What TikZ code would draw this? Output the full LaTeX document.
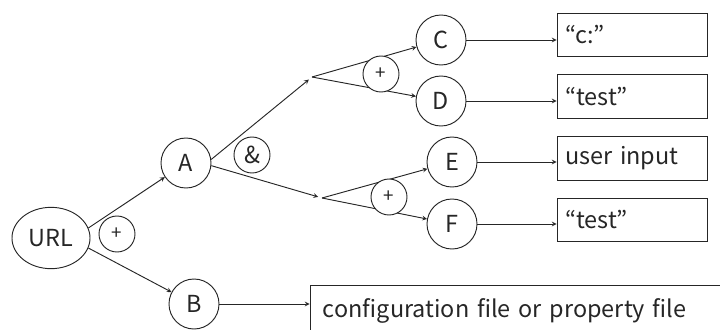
\documentclass[tikz,border=0pt]{standalone}
\usepackage{fontspec}
\setmainfont{Noto Sans CJK JP}
\usetikzlibrary{shapes.geometric}

\begin{document}
\begin{tikzpicture}[
    x=0.03cm, y=-0.03cm, line width=0.8pt, color=black!85,
    every node/.style={font=\fontsize{20}{24}\selectfont},
    arrowstyle/.style={draw, -stealth},
    source/.style={ellipse, draw, minimum width=2.34cm, minimum height=1.84cm,
        inner sep=0pt},
    state/.style={circle, draw, minimum size=1.5cm, inner sep=0pt},
    gate/.style={circle, draw, fill=white, minimum size=1.08cm, inner sep=0pt,
        font=\fontsize{16}{18}\selectfont},
    valuebox/.style={rectangle, draw, minimum width=4.5cm, minimum height=1.3cm,
        inner xsep=0.24cm, text width=4.02cm, align=left}
]
\useasboundingbox (0,0) rectangle (720,329);
\clip (0,0) rectangle (720,329);

% nodes
\node (url) [source] at (51,238) {URL};
\node (a) [state] at (186,163) {A};
\node (b) [state] at (194,304) {B};
\node (c) [state] at (441,40) {C};
\node (d) [state] at (441,101) {D};
\node (e) [state] at (452,162) {E};
\node (f) [state] at (452,224) {F};

\coordinate (j1) at (312,77);
\coordinate (j2) at (322,198);

% values
\node (cbox) [valuebox] at (632,35) {“c:”};
\node (dbox) [valuebox] at (632,96.5) {“test”};
\node (ebox) [valuebox] at (632,158.5) {user input};
\node (fbox) [valuebox] at (632,220) {“test”};
\node (bbox) [valuebox, minimum width=12.45cm, minimum height=1.56cm,
    inner xsep=0.39cm, text width=11.67cm] at (517.5,311) {configuration file or property file};

% connectors
\draw [arrowstyle] (url.15) -- (a);
\draw [arrowstyle] (url.-15) -- (b);
\draw [arrowstyle, shorten >=0.12cm] (a.8) -- (j1);
\draw [arrowstyle, shorten >=0.12cm] (a.-6) -- (j2);
\draw [arrowstyle] (j1) -- (c);
\draw [arrowstyle] (j1) -- (d);
\draw [arrowstyle] (j2) -- (e);
\draw [arrowstyle] (j2) -- (f);
\draw [arrowstyle] (c) -- (c -| cbox.west);
\draw [arrowstyle] (d) -- (d -| dbox.west);
\draw [arrowstyle] (e) -- (e -| ebox.west);
\draw [arrowstyle] (f) -- (f -| fbox.west);
\draw [arrowstyle] (b) -- (b -| bbox.west);

% gates
\node (or1) [gate] at (117,234) {+};
\node (and1) [gate, font=\fontsize{20}{22}\selectfont] at (252,155) {\&};
\node (or2) [gate] at (381,74) {+};
\node (or3) [gate] at (389,197) {+};
\end{tikzpicture}
\end{document}
